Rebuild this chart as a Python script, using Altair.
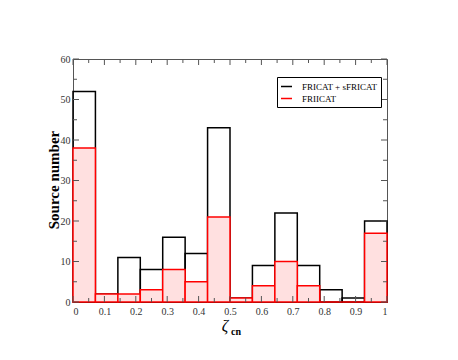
import altair as alt
import pandas as pd

# ---- data ----
bin_start = [0.0, 0.0714, 0.1429, 0.2143, 0.2857, 0.3571, 0.4286,
             0.5, 0.5714, 0.6429, 0.7143, 0.7857, 0.8571, 0.9286]
bin_end = [0.0714, 0.1429, 0.2143, 0.2857, 0.3571, 0.4286, 0.5,
           0.5714, 0.6429, 0.7143, 0.7857, 0.8571, 0.9286, 1.0]
fricat_total = [52, 2, 11, 8, 16, 12, 43, 1, 9, 22, 9, 3, 1, 20]
friicat = [38, 2, 2, 3, 8, 5, 21, 1, 4, 10, 4, 0, 0, 17]
series = ["FRICAT + sFRICAT", "FRIICAT"]

x_major = [0, 0.1, 0.2, 0.3, 0.4, 0.5, 0.6, 0.7, 0.8, 0.9, 1.0]
x_minor = [0.05, 0.15, 0.25, 0.35, 0.45, 0.55, 0.65, 0.75, 0.85, 0.95]
y_major = [0, 10, 20, 30, 40, 50, 60]
y_minor = [5, 15, 25, 35, 45, 55]

rows = []
for s, vals in zip(series, [fricat_total, friicat]):
    for a, b, v in zip(bin_start, bin_end, vals):
        rows.append({"series": s, "x0": a, "x1": b, "count": v})
df = pd.DataFrame(rows)

W, H = 314, 243
FRAME = "#555555"
FONT = "Liberation Serif"

xs = alt.Scale(domain=[0, 1], nice=False, zero=False)
ys = alt.Scale(domain=[0, 60], nice=False)
x_axis = alt.Axis(values=x_major, format="~g", ticks=False, domain=False,
                  grid=False, labelPadding=4, title=None, labelFont=FONT,
                  labelFontSize=10, labelColor="#333333")
y_axis = alt.Axis(values=y_major, ticks=False, domain=False, grid=False,
                  labelPadding=3, title=None, labelFont=FONT,
                  labelFontSize=10, labelColor="#333333")

bars = alt.Chart(df).mark_rect(strokeWidth=1.5).encode(
    x=alt.X("x0:Q", scale=xs, axis=x_axis),
    x2="x1:Q",
    y=alt.Y("count:Q", scale=ys, axis=y_axis),
    y2=alt.datum(0),
    stroke=alt.Stroke("series:N",
                      scale=alt.Scale(domain=series, range=["black", "red"]),
                      legend=alt.Legend(title=None, orient="none", legendX=204, legendY=18,
                                        symbolType="stroke", symbolSize=121,
                                        symbolStrokeWidth=1.5, labelFont=FONT,
                                        labelFontSize=9, labelColor="black",
                                        labelOffset=9, rowPadding=0, padding=3,
                                        strokeColor="black", fillColor="white",
                                        cornerRadius=0)),
    fill=alt.condition(alt.datum.series == series[1],
                       alt.value("#ffe0e0"), alt.value("transparent")),
)

layers = [bars]


def xticks(vals, length):
    d = pd.DataFrame({"v": vals})
    bot = alt.Chart(d).mark_rule(color=FRAME, strokeWidth=1).encode(
        x=alt.X("v:Q", scale=xs, axis=x_axis), y=alt.value(H), y2=alt.value(H - length))
    top = alt.Chart(d).mark_rule(color=FRAME, strokeWidth=1).encode(
        x=alt.X("v:Q", scale=xs, axis=x_axis), y=alt.value(0), y2=alt.value(length))
    return [bot, top]


def yticks(vals, length):
    d = pd.DataFrame({"v": vals})
    left = alt.Chart(d).mark_rule(color=FRAME, strokeWidth=1).encode(
        y=alt.Y("v:Q", scale=ys, axis=y_axis), x=alt.value(0), x2=alt.value(length))
    right = alt.Chart(d).mark_rule(color=FRAME, strokeWidth=1).encode(
        y=alt.Y("v:Q", scale=ys, axis=y_axis), x=alt.value(W), x2=alt.value(W - length))
    return [left, right]


layers += xticks(x_major, 6) + xticks(x_minor, 4)
layers += yticks(y_major, 6) + yticks(y_minor, 4)

zeta = alt.Chart(pd.DataFrame({"t": ["ζ"]})).mark_text(
    font=FONT, fontSize=16, fontStyle="italic", align="center", baseline="middle",
    color="black"
).encode(x=alt.value(152), y=alt.value(267), text="t:N")
sub = alt.Chart(pd.DataFrame({"t": ["cn"]})).mark_text(
    font=FONT, fontSize=10, fontWeight="bold", align="center", baseline="middle",
    color="black"
).encode(x=alt.value(163), y=alt.value(273), text="t:N")
ytitle = alt.Chart(pd.DataFrame({"t": ["Source number"]})).mark_text(
    font=FONT, fontSize=15, fontWeight="bold", align="center", baseline="middle",
    angle=270, color="black"
).encode(x=alt.value(-19), y=alt.value(121), text="t:N")

layers += [zeta, sub, ytitle]

chart = alt.layer(*layers).properties(
    width=W, height=H,
    autosize="none",
    padding={"left": 65, "top": 51, "right": 48, "bottom": 40},
).configure_view(
    stroke=FRAME, strokeWidth=1
)

chart.save("out.html", embed_options={"renderer": "svg", "actions": False})
